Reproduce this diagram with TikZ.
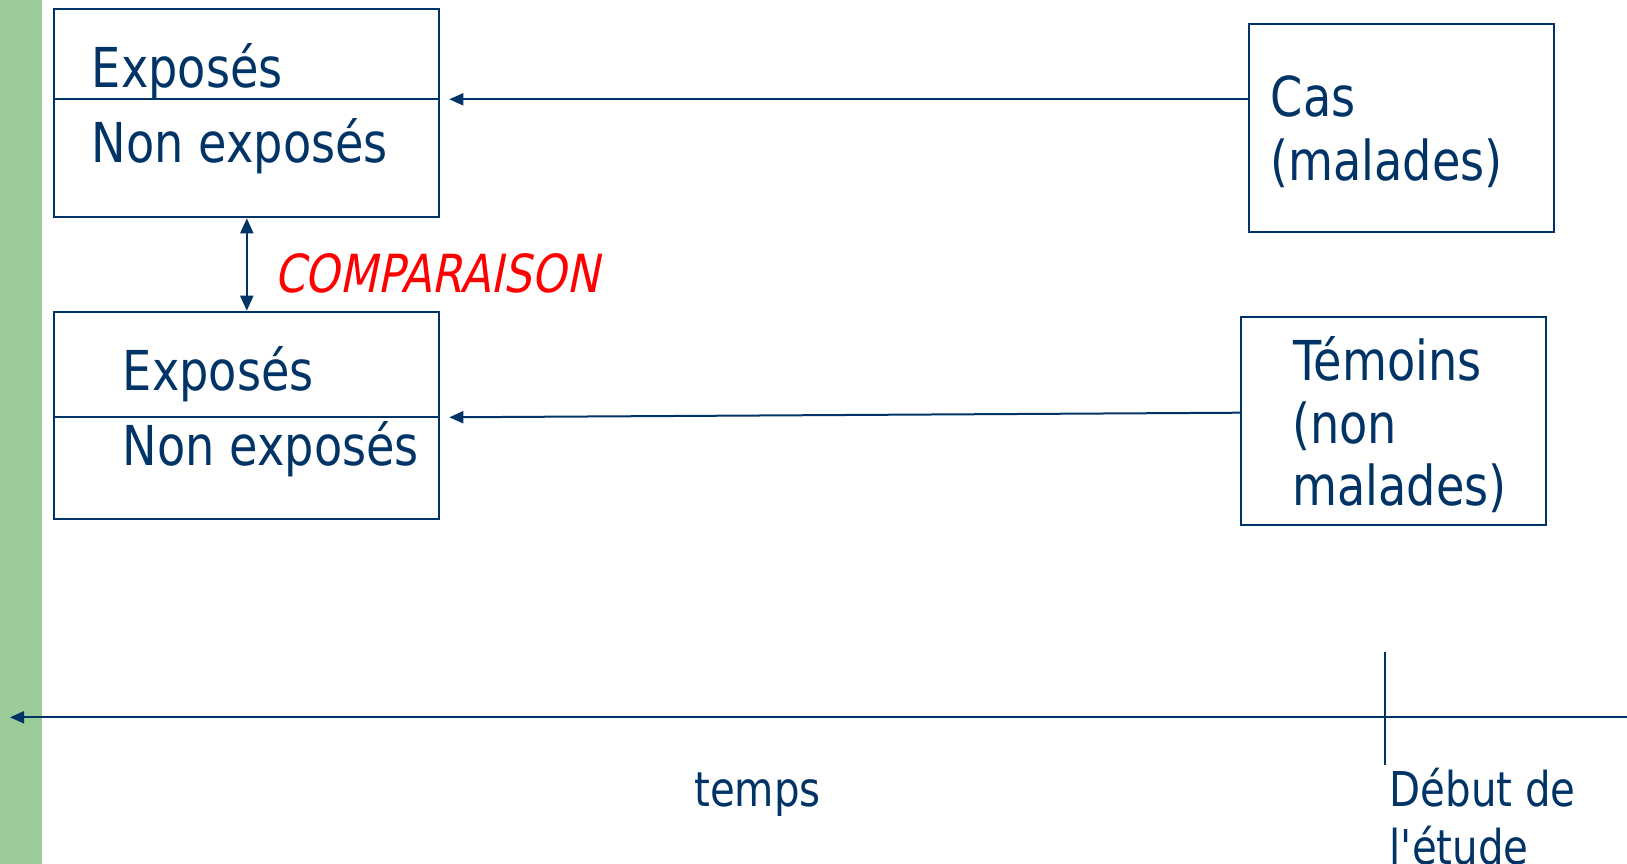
\documentclass[tikz,border=0pt]{standalone}
\usepackage{fontspec}
\setmainfont{DejaVu Sans}[FakeStretch=0.84,Ligatures=TeXOff]
\newfontfamily\compfont{DejaVu Sans}[FakeStretch=0.84,FakeSlant=0.2]
\usetikzlibrary{arrows.meta}
\definecolor{navy}{RGB}{0,51,102}
\definecolor{bargreen}{RGB}{156,204,152}
\definecolor{compred}{RGB}{255,0,0}
\tikzset{
  box/.style={draw=navy,line width=2pt,rectangle,inner sep=0pt},
  lbl/.style={anchor=base west,inner sep=0pt,text=navy,font=\fontsize{55}{62}\selectfont},
  axlbl/.style={lbl,font=\fontsize{48}{56}\selectfont},
  conn/.style={draw=navy,line width=2pt},
  arr/.style={conn,-{Triangle[length=14pt,width=12pt]}},
  darr/.style={conn,{Triangle[length=15pt,width=13pt]}-{Triangle[length=15pt,width=13pt]}},
}
\begin{document}
\begin{tikzpicture}[x=1pt,y=-1pt]
\useasboundingbox (0,0) rectangle (1627,864);
\fill[white] (0,0) rectangle (1627,864);
\fill[bargreen] (0,0) rectangle (42,864);

% left boxes
\node[box,minimum width=385pt,minimum height=208.3pt] (B1) at (246.8,113.2) {};
\coordinate (d1) at (54.3,99.3);
\draw[conn] (d1) -- (d1 -| B1.east);
\node[lbl] (B1a) at (91.7,87.3) {Exposés};
\node[lbl] (B1b) at (91.7,162.7) {Non exposés};

\node[box,minimum width=385pt,minimum height=207.6pt] (B2) at (246.8,415.5) {};
\coordinate (d2) at (54.3,417.3);
\draw[conn] (d2) -- (d2 -| B2.east);
\node[lbl] (B2a) at (122.7,390.7) {Exposés};
\node[lbl] (B2b) at (122.7,465) {Non exposés};

% right boxes
\node[box,minimum width=304.7pt,minimum height=208pt] (Cas) at (1401.7,128) {};
\node[lbl] (Cas1) at (1270.7,116.7) {Cas};
\node[lbl] (Cas2) at (1270.2,180) {(malades)};

\node[box,minimum width=304.4pt,minimum height=208.6pt] (Tem) at (1393.5,421) {};
\node[lbl] (Tem1) at (1293,380) {Témoins};
\node[lbl] (Tem2) at (1292,443) {(non};
\node[lbl] (Tem3) at (1292,505) {malades)};

% arrows
\coordinate (t1) at (449.3,99.3);
\draw[arr] (Cas.west |- t1) -- (t1);
\coordinate (t2) at (449.3,417.3);
\draw[arr] ([yshift=8.3pt]Tem.west) -- (t2);

\draw[darr] (B1.south) -- (B2.north);
\node[anchor=base west,inner sep=0pt,text=compred,font=\compfont\fontsize{52.5}{58}\selectfont] (comp) at (274,292) {COMPARAISON};

% time axis
\coordinate (axR) at (1627,717.3);
\coordinate (axL) at (10,717.3);
\draw[arr] (axR) -- (axL);
\coordinate (tkT) at (1385.3,652.3);
\coordinate (tkB) at (1385.3,765);
\draw[conn] (tkT) -- (tkB);
\node[axlbl] (temps) at (694,806) {temps};
\node[axlbl] (deb1) at (1389.5,806) {Début de};
\node[axlbl] (deb2) at (1389.5,864) {l'étude};
\end{tikzpicture}
\end{document}
